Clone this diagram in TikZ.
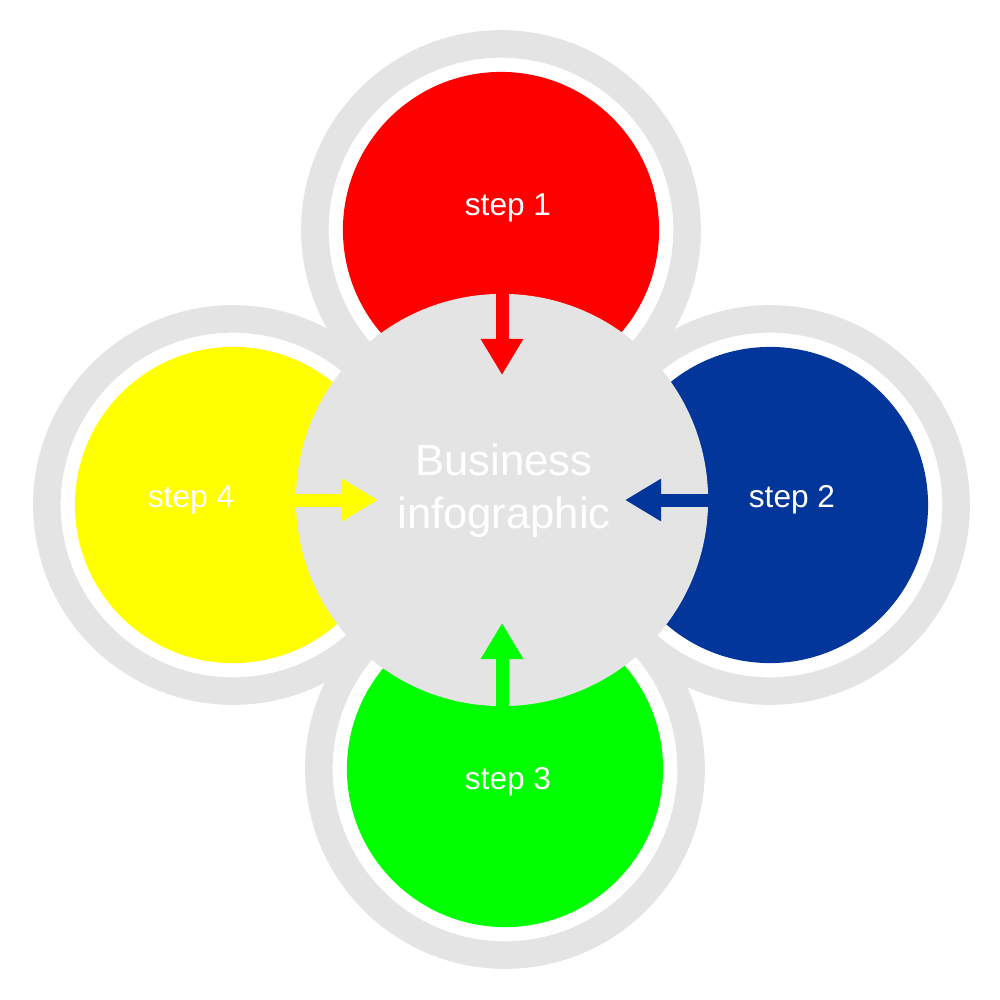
\documentclass[tikz,border=0pt]{standalone}
\usepackage{fontspec}
\setmainfont{Liberation Sans}
\usetikzlibrary{arrows,arrows.meta,positioning}

\definecolor{ringgray}{HTML}{E4E4E4}
\definecolor{stepred}{HTML}{FF0000}
\definecolor{stepblue}{HTML}{02369A}
\definecolor{stepgreen}{HTML}{00FF00}
\definecolor{stepyellow}{HTML}{FFFF00}

\begin{document}
\begin{tikzpicture}
%Four steps around one hub
	[
	 	 %Styles
       x=0.01cm, y=-0.01cm,
       ring_node/.style={circle,inner sep=0pt,minimum size=3.72cm,draw=ringgray,line width=0.275cm,fill=white},
       petal_node/.style={circle,inner sep=0pt,minimum size=3.16cm},
       hub_node/.style={circle,inner sep=0pt,minimum size=4.12cm,fill=ringgray},
       label_hub/.style={text=white,align=center,font=\fontsize{12.4}{15}\selectfont},
       label_step/.style={text=white,font=\fontsize{9}{11}\selectfont},
       step_arrow/.style={line width=0.13cm,-{Triangle[length=0.36cm,width=0.40cm]}}
    ]

    \useasboundingbox[fill=white] (0,0) rectangle (1000,1000);

    %Rings
    \node (ring1) [ring_node] at (501,230) {};
    \node (ring2) [ring_node] at (770,505) {};
    \node (ring3) [ring_node] at (505,769) {};
    \node (ring4) [ring_node] at (233,505) {};

    %Petals
    \node (petal1) [petal_node,fill=stepred]    at (ring1) {};
    \node (petal2) [petal_node,fill=stepblue]   at (ring2) {};
    \node (petal3) [petal_node,fill=stepgreen]  at (ring3) {};
    \node (petal4) [petal_node,fill=stepyellow] at (ring4) {};

    %Hub
    \node (hub) [hub_node] at (502,500) {};
    \node (title) [label_hub] at (504,491) {Business\\infographic};

    %Labels
    \node (step1) [label_step] at (508,208) {step 1};
    \node (step2) [label_step] at (792,500) {step 2};
    \node (step3) [label_step] at (508,782) {step 3};
    \node (step4) [label_step] at (191,500) {step 4};

    %Arrow tips
    \coordinate (tip1) at (502,375);
    \coordinate (tip2) at (625,500);
    \coordinate (tip3) at (502,623);
    \coordinate (tip4) at (378,500);

    %Edges
    \path
       (hub.north) edge [step_arrow,stepred]    (tip1)
       (hub.east)  edge [step_arrow,stepblue]   (tip2)
       (hub.south) edge [step_arrow,stepgreen]  (tip3)
       (hub.west)  edge [step_arrow,stepyellow] (tip4);
\end{tikzpicture}
\end{document}
